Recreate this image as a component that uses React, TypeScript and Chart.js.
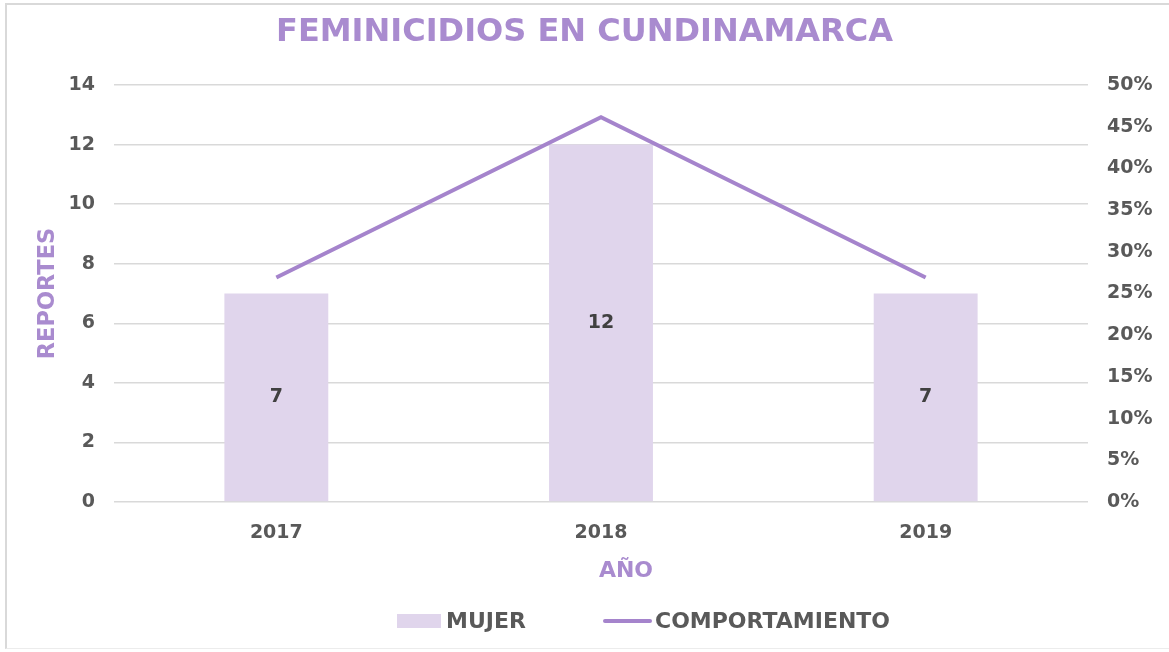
import React, { useEffect, useRef } from "react";
import { Chart, registerables } from "chart.js";

Chart.register(...registerables);

const TITLE = "FEMINICIDIOS EN CUNDINAMARCA";
const YEARS = ["2017", "2018", "2019"];
const MUJER = [7, 12, 7];
const COMPORTAMIENTO = [26.92, 46.15, 26.92];
const BAR_LABEL = "MUJER";
const LINE_LABEL = "COMPORTAMIENTO";
const Y_TITLE = "REPORTES";
const X_TITLE = "AÑO";

const FONT = "'DejaVu Sans', Verdana, sans-serif";
const PURPLE = "#a98bcf";
const LINE_COLOR = "#a584cc";
const BAR_COLOR = "#e0d5ec";
const TICK_COLOR = "#595959";
const GRID = "#d9d9d9";

const extras = {
  id: "extras",
  afterDatasetsDraw(chart: any) {
    const ctx = chart.ctx;
    const meta = chart.getDatasetMeta(0);
    ctx.save();
    ctx.font = `bold 19px ${FONT}`;
    ctx.fillStyle = "#404040";
    ctx.textAlign = "center";
    ctx.textBaseline = "middle";
    meta.data.forEach((bar: any, i: number) => {
      const y = (bar.y + bar.base) / 2;
      ctx.fillText(String(MUJER[i]), bar.x, y);
    });
    ctx.restore();
  },
  afterDraw(chart: any) {
    const ctx = chart.ctx;
    const area = chart.chartArea;
    ctx.save();
    // x-axis title (sits slightly right of centre in the reference)
    ctx.font = `bold 22px ${FONT}`;
    ctx.fillStyle = PURPLE;
    ctx.textAlign = "center";
    ctx.textBaseline = "middle";
    ctx.fillText(X_TITLE, (area.left + area.right) / 2 + 25, 571);

    // legend
    const y = 621;
    ctx.font = `bold 22px ${FONT}`;
    ctx.textBaseline = "middle";
    ctx.textAlign = "left";
    ctx.fillStyle = BAR_COLOR;
    ctx.fillRect(397, y - 7, 44, 14);
    ctx.fillStyle = TICK_COLOR;
    ctx.fillText(BAR_LABEL, 446, y + 1);
    ctx.strokeStyle = LINE_COLOR;
    ctx.lineWidth = 4;
    ctx.lineCap = "round";
    ctx.beginPath();
    ctx.moveTo(605, y);
    ctx.lineTo(650, y);
    ctx.stroke();
    ctx.fillText(LINE_LABEL, 655, y + 1);
    ctx.restore();
  },
};

export default function App() {
  const ref = useRef<HTMLCanvasElement>(null);
  useEffect(() => {
    if (!ref.current) return;
    const chart = new Chart(ref.current, {
      type: "bar",
      data: {
        labels: YEARS,
        datasets: [
          {
            type: "bar",
            label: BAR_LABEL,
            data: MUJER,
            backgroundColor: BAR_COLOR,
            barPercentage: 0.32,
            categoryPercentage: 1,
            yAxisID: "y",
            order: 2,
          },
          {
            type: "line",
            label: LINE_LABEL,
            data: COMPORTAMIENTO,
            borderColor: LINE_COLOR,
            backgroundColor: LINE_COLOR,
            borderWidth: 4,
            pointRadius: 0,
            tension: 0,
            yAxisID: "y1",
            order: 1,
          } as any,
        ],
      },
      options: {
        responsive: false,
        animation: false,
        layout: { padding: { left: 0, right: 0, top: 0, bottom: 60 } },
        plugins: {
          legend: { display: false },
          tooltip: { enabled: false },
          title: {
            display: true,
            text: TITLE,
            color: PURPLE,
            font: { family: FONT, size: 32, weight: "bold", lineHeight: 1.2 },
            padding: { top: 13, bottom: 33.6 },
          },
        },
        scales: {
          x: {
            grid: { display: false },
            border: { display: false },
            ticks: {
              color: TICK_COLOR,
              font: { family: FONT, size: 19, weight: "bold" },
              padding: 12,
            },
            title: { display: false },
            afterFit: (s: any) => {
              s.height = 90;
            },
          },
          y: {
            position: "left",
            min: 0,
            max: 14,
            ticks: {
              stepSize: 2,
              color: TICK_COLOR,
              font: { family: FONT, size: 19, weight: "bold" },
              padding: 19,
            },
            grid: { color: GRID, lineWidth: 1.5, drawTicks: false },
            border: { display: false },
            title: {
              display: true,
              text: Y_TITLE,
              color: PURPLE,
              font: { family: FONT, size: 22.5, weight: "bold", lineHeight: 1.2 },
              padding: { top: 35, bottom: 0 },
            },
            afterFit: (s: any) => {
              s.width = 114;
            },
          },
          y1: {
            position: "right",
            min: 0,
            max: 50,
            ticks: {
              stepSize: 5,
              color: TICK_COLOR,
              font: { family: FONT, size: 19, weight: "bold" },
              padding: 19,
              callback: (v: any) => `${v}%`,
            },
            grid: { drawOnChartArea: false, drawTicks: false },
            border: { display: false },
            afterFit: (s: any) => {
              s.width = 81;
            },
          },
        },
      },
      plugins: [extras],
    } as any);
    return () => chart.destroy();
  }, []);

  return (
    <div style={{ position: "fixed", left: 0, top: 0, width: 1169, height: 652, overflow: "hidden", background: "#fff" }}>
      <canvas ref={ref} width={1169} height={652} style={{ position: "absolute", left: 0, top: 0 }} />
      <div
        style={{
          position: "absolute",
          left: 5,
          top: 3,
          width: 2000,
          height: 646,
          borderLeft: "2px solid #d9d9d9",
          borderTop: "2px solid #d9d9d9",
          borderBottom: "1px solid #ececec",
          boxSizing: "border-box",
          pointerEvents: "none",
        }}
      />
    </div>
  );
}
